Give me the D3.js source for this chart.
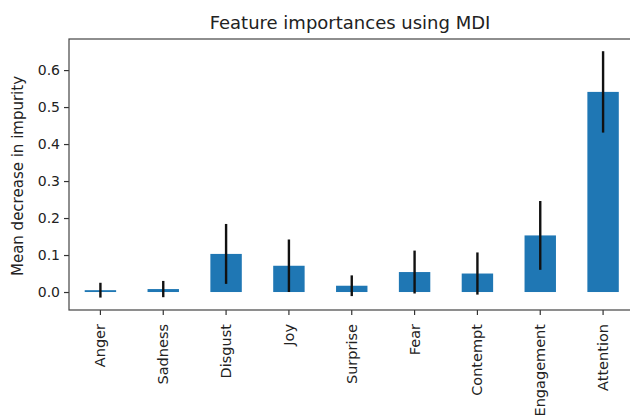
<!DOCTYPE html>
<html>
<head>
<meta charset="utf-8">
<script src="https://cdn.jsdelivr.net/npm/d3@7"></script>
<style>
  html, body { margin: 0; padding: 0; background: #fff; }
  svg { display: block; }
  text { font-family: "DejaVu Sans", sans-serif; fill: #222; }
</style>
</head>
<body>
<svg id="chart" width="630" height="419"></svg>
<script>
const categories = ["Anger", "Sadness", "Disgust", "Joy", "Surprise", "Fear", "Contempt", "Engagement", "Attention"];
const importances = [0.005, 0.008, 0.103, 0.071, 0.017, 0.054, 0.050, 0.153, 0.541];
const errors = [0.020, 0.022, 0.081, 0.071, 0.028, 0.058, 0.057, 0.093, 0.110];
const yTicks = [0.0, 0.1, 0.2, 0.3, 0.4, 0.5, 0.6];
const title = "Feature importances using MDI";
const yLabel = "Mean decrease in impurity";

(function () {
const svg = d3.select("#chart");
const mLeft = 69, mRight = 634.5, mTop = 39, mBottom = 310;

const x = d3.scaleBand().domain(categories).range([mLeft, mRight]).paddingInner(0.5).paddingOuter(0.25);
const y = d3.scaleLinear().domain([-0.0486, 0.684]).range([mBottom, mTop]);

const g = svg.append("g");

// bars
g.selectAll("rect.bar").data(categories).enter().append("rect")
  .attr("class", "bar")
  .attr("x", d => x(d))
  .attr("width", x.bandwidth())
  .attr("y", (d, i) => y(importances[i]))
  .attr("height", (d, i) => y(0) - y(importances[i]))
  .attr("fill", "#1f77b4");

// error bars
g.selectAll("line.err").data(categories).enter().append("line")
  .attr("class", "err")
  .attr("x1", d => x(d) + x.bandwidth() / 2)
  .attr("x2", d => x(d) + x.bandwidth() / 2)
  .attr("y1", (d, i) => y(importances[i] - errors[i]))
  .attr("y2", (d, i) => y(importances[i] + errors[i]))
  .attr("stroke", "#111")
  .attr("stroke-width", 2.4);

// axes
const yAxis = d3.axisLeft(y).tickValues(yTicks).tickFormat(d3.format(".1f")).tickSize(5).tickPadding(4);
const ya = svg.append("g").attr("transform", `translate(${mLeft},0)`).call(yAxis);
ya.select(".domain").remove();
ya.selectAll("text").style("font-size", "14px").attr("fill", "#222");
ya.selectAll("line").attr("stroke", "#333").attr("stroke-width", 1.2);

const xAxis = d3.axisBottom(x).tickSize(5).tickPadding(5);
const xa = svg.append("g").attr("transform", `translate(0,${mBottom})`).call(xAxis);
xa.select(".domain").remove();
xa.selectAll("line").attr("stroke", "#333").attr("stroke-width", 1.2);
xa.selectAll("text")
  .style("font-size", "14.5px")
  .attr("fill", "#222")
  .attr("text-anchor", "end")
  .attr("transform", "rotate(-90)")
  .attr("x", -14)
  .attr("y", 0)
  .attr("dy", "0.35em");

// frame
svg.append("rect")
  .attr("x", mLeft).attr("y", mTop)
  .attr("width", mRight - mLeft).attr("height", mBottom - mTop)
  .attr("fill", "none").attr("stroke", "#444").attr("stroke-width", 1.2);

// title
svg.append("text")
  .attr("x", 350).attr("y", 29)
  .attr("text-anchor", "middle")
  .style("font-size", "18px")
  .text(title);

// y label
svg.append("text")
  .attr("transform", `translate(23,176) rotate(-90)`)
  .attr("text-anchor", "middle")
  .style("font-size", "15px")
  .text(yLabel);
})();
</script>
</body>
</html>
